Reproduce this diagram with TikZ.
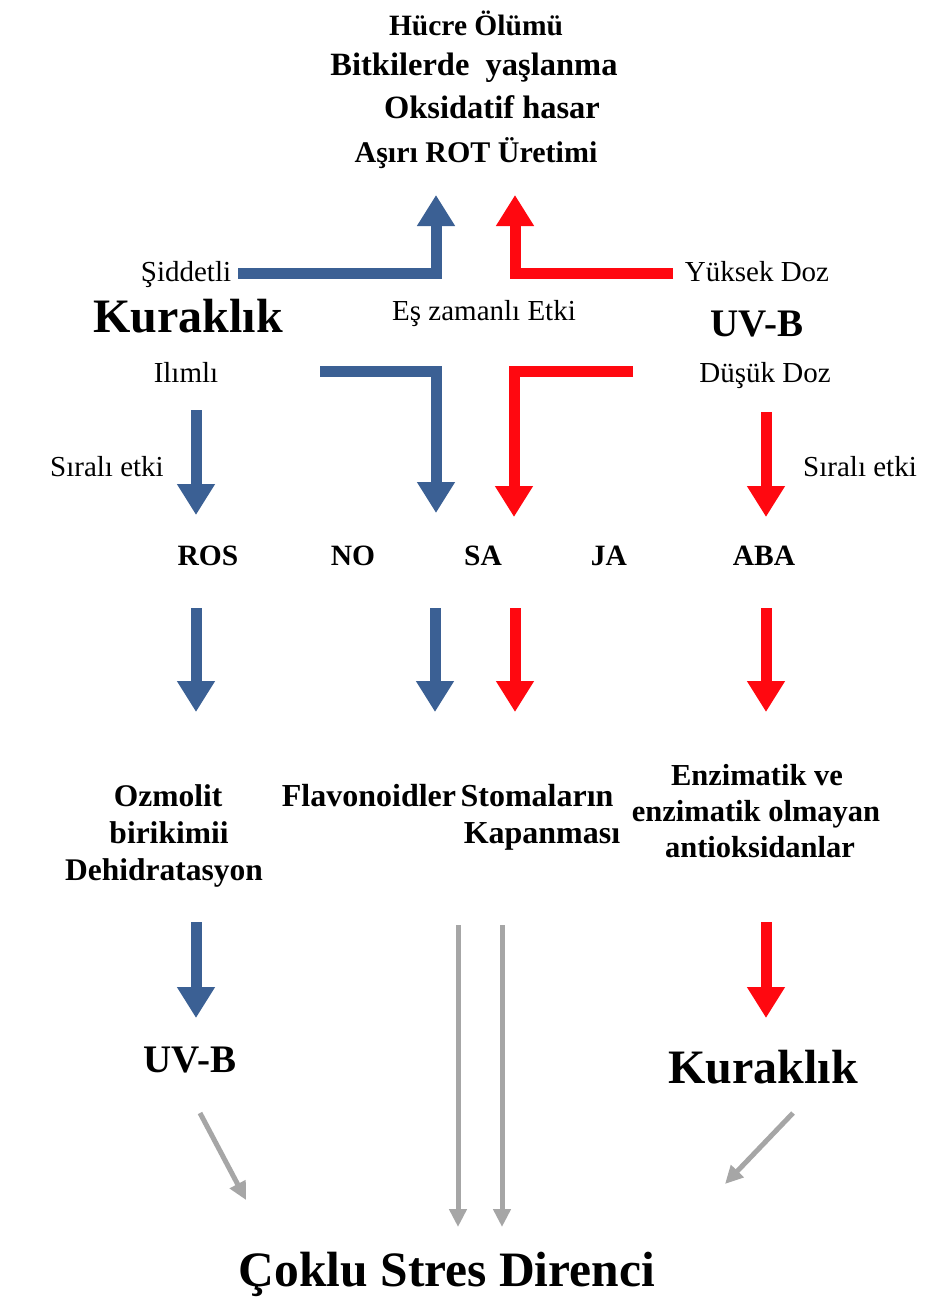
\documentclass[tikz,border=0pt]{standalone}
\usepackage{fontspec}
\setmainfont{Liberation Serif}
\usetikzlibrary{arrows.meta}
\definecolor{bl}{RGB}{59,96,148}
\definecolor{rd}{RGB}{255,8,16}
\definecolor{gr}{RGB}{166,166,166}
\newcommand{\fs}[1]{\fontsize{#1}{#1}\selectfont}
\tikzset{
  lbl/.style={anchor=base,inner sep=0pt,font=\fs{29}},
  blbl/.style={anchor=base,inner sep=0pt,font=\bfseries\fs{29.5}},
  big/.style={anchor=base,inner sep=0pt,font=\bfseries\fs{48}},
  mid/.style={anchor=base,inner sep=0pt,font=\bfseries\fs{39}},
  barrow/.style={draw=bl,line width=11pt,line join=miter,-{Triangle[width=36pt,length=31pt]}},
  rarrow/.style={draw=rd,line width=11pt,line join=miter,-{Triangle[width=36pt,length=31pt]}},
  garrow/.style={draw=gr,line width=5pt,-{Triangle[width=17pt,length=18pt]}}
}
\begin{document}
\begin{tikzpicture}[x=1pt,y=-1pt]
\useasboundingbox (0,0) rectangle (942,1315);
% top texts
\node[blbl,font=\bfseries\fs{29.5}] (t1) at (476,35) {Hücre Ölümü};
\node[blbl,font=\bfseries\fs{32.5}] (t2) at (474,75) {Bitkilerde\ \ yaşlanma};
\node[blbl,font=\bfseries\fs{32.5}] (t3) at (492,118) {Oksidatif hasar};
\node[blbl,font=\bfseries\fs{30}] (t4) at (476,162) {Aşırı ROT Üretimi};
% side labels
\node[lbl] (sid) at (186,281) {Şiddetli};
\node[lbl] (yuk) at (757,281) {Yüksek Doz};
\node[big] (kur) at (188,332) {Kuraklık};
\node[lbl] (es) at (484,320) {Eş zamanlı Etki};
\node[mid] (uvb) at (757,336) {UV-B};
\node[lbl] (ili) at (186,382) {Ilımlı};
\node[lbl] (dus) at (765,382) {Düşük Doz};
\node[lbl] (sl) at (107,476) {Sıralı etki};
\node[lbl] (sr) at (860,476) {Sıralı etki};
% signals
\node[blbl] (ros) at (208,565) {ROS};
\node[blbl] (no) at (353,565) {NO};
\node[blbl] (sa) at (483,565) {SA};
\node[blbl] (ja) at (609,565) {JA};
\node[blbl] (aba) at (764,565) {ABA};
% responses
\node[blbl,font=\bfseries\fs{31.5}] (oz1) at (168,806) {Ozmolit};
\node[blbl,font=\bfseries\fs{31.5}] (oz2) at (169,843) {birikimii};
\node[blbl,font=\bfseries\fs{31.5}] (oz3) at (164,880) {Dehidratasyon};
\node[blbl,font=\bfseries\fs{32}] (fla) at (369,806) {Flavonoidler};
\node[blbl,font=\bfseries\fs{32}] (st1) at (537,806) {Stomaların};
\node[blbl,font=\bfseries\fs{32}] (st2) at (542,843) {Kapanması};
\node[blbl,font=\bfseries\fs{30.5}] (en1) at (757,785) {Enzimatik ve};
\node[blbl,font=\bfseries\fs{30.5}] (en2) at (756,821) {enzimatik olmayan};
\node[blbl,font=\bfseries\fs{30.5}] (en3) at (760,857) {antioksidanlar};
% bottom
\node[mid] (uvb2) at (190,1072) {UV-B};
\node[big] (kur2) at (763,1083) {Kuraklık};
\node[big,font=\bfseries\fs{49.5}] (cok) at (447,1286) {Çoklu Stres Direnci};
% coordinates
\coordinate (b1s) at (238,273); \coordinate (b1c) at (436,273); \coordinate (b1e) at (436,195);
\coordinate (r1s) at (673,273); \coordinate (r1c) at (515,273); \coordinate (r1e) at (515,195);
\coordinate (b2s) at (320,371); \coordinate (b2c) at (436,371); \coordinate (b2e) at (436,513);
\coordinate (r2s) at (633,371); \coordinate (r2c) at (514,371); \coordinate (r2e) at (514,517);
\coordinate (b3s) at (196,410); \coordinate (b3e) at (196,515);
\coordinate (r3s) at (766,412); \coordinate (r3e) at (766,517);
\coordinate (b4s) at (196,608); \coordinate (b4e) at (196,712);
\coordinate (b5s) at (435,608); \coordinate (b5e) at (435,712);
\coordinate (r4s) at (515,608); \coordinate (r4e) at (515,712);
\coordinate (r5s) at (766,608); \coordinate (r5e) at (766,712);
\coordinate (b6s) at (196,922); \coordinate (b6e) at (196,1018);
\coordinate (r6s) at (766,922); \coordinate (r6e) at (766,1018);
\coordinate (g1s) at (200,1113); \coordinate (g1e) at (246,1200);
\coordinate (g2s) at (458,925); \coordinate (g2e) at (458,1227);
\coordinate (g3s) at (502,925); \coordinate (g3e) at (502,1227);
\coordinate (g4s) at (793,1113); \coordinate (g4e) at (725,1184);
% arrows
\draw[barrow] (b1s) -- (b1c) -- (b1e);
\draw[rarrow] (r1s) -- (r1c) -- (r1e);
\draw[barrow] (b2s) -- (b2c) -- (b2e);
\draw[rarrow] (r2s) -- (r2c) -- (r2e);
\draw[barrow] (b3s) -- (b3e);
\draw[rarrow] (r3s) -- (r3e);
\draw[barrow] (b4s) -- (b4e);
\draw[barrow] (b5s) -- (b5e);
\draw[rarrow] (r4s) -- (r4e);
\draw[rarrow] (r5s) -- (r5e);
\draw[barrow] (b6s) -- (b6e);
\draw[rarrow] (r6s) -- (r6e);
\draw[garrow] (g1s) -- (g1e);
\draw[garrow] (g2s) -- (g2e);
\draw[garrow] (g3s) -- (g3e);
\draw[garrow] (g4s) -- (g4e);
\end{tikzpicture}
\end{document}
